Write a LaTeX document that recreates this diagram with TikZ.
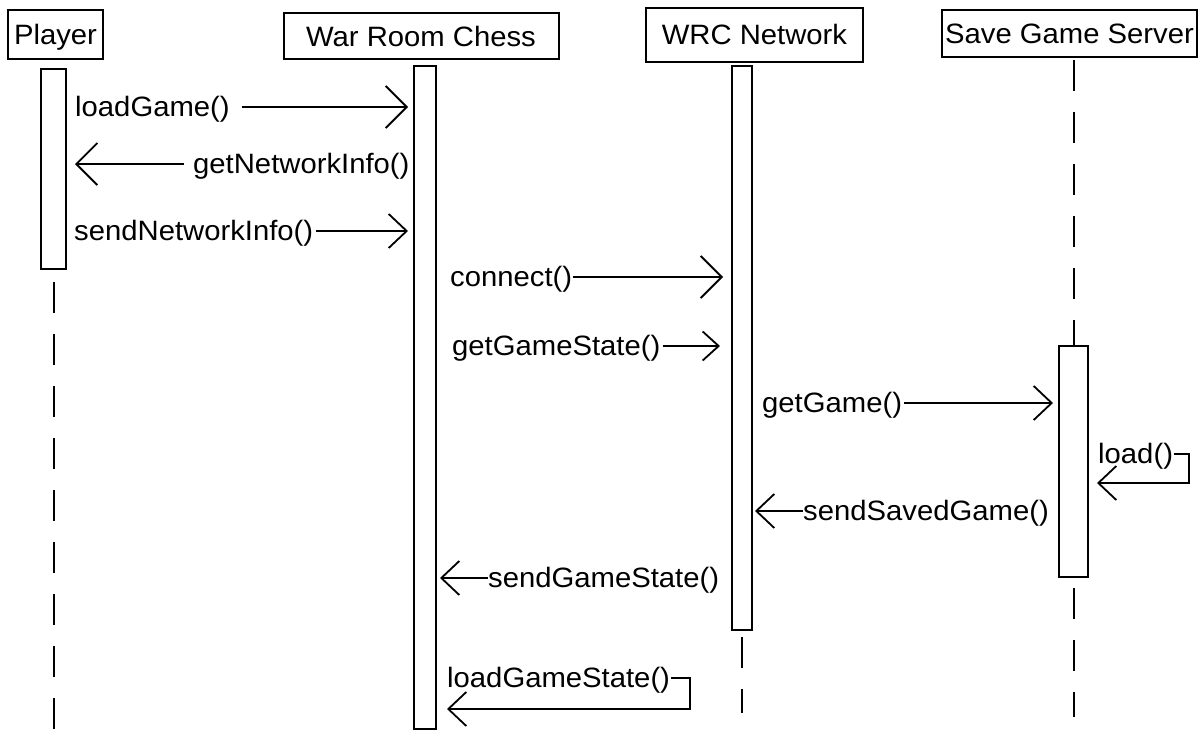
\documentclass[tikz,border=0pt]{standalone}
\usepackage{fontspec}
\setmainfont{Liberation Sans}[FakeStretch=1.045]
\usetikzlibrary{arrows.meta}
\newcommand{\pfont}{\fontsize{28}{32}\selectfont}
\tikzset{
  pbox/.style={draw, line width=2pt, inner sep=0pt, font=\pfont, text height=20pt, text depth=0pt},
  act/.style={draw, line width=2pt, fill=white, inner sep=0pt},
  life/.style={line width=2pt, dash pattern=on 31pt off 21pt},
  msg/.style={line width=1.8pt},
  lbl/.style={inner sep=0pt, anchor=base west, font=\pfont},
  tipL/.style={-{Straight Barb[length=21pt,width=42pt]}},
  tipM/.style={-{Straight Barb[length=18pt,width=34pt]}},
  tipS/.style={-{Straight Barb[length=16pt,width=29pt]}},
}
\begin{document}
\begin{tikzpicture}[x=1pt,y=-1pt]
\useasboundingbox[fill=white] (0,0) rectangle (1203,742);
% participants
\node[pbox, minimum width=95pt, minimum height=49pt] (player) at (55.5,34.5) {Player};
\node[pbox, minimum width=275pt, minimum height=46pt] (wrc) at (421,36) {War Room Chess};
\node[pbox, minimum width=217pt, minimum height=54pt] (net) at (754.5,34.5) {WRC Network};
\node[pbox, minimum width=255pt, minimum height=47pt] (sgs) at (1069.5,33.5) {Save Game Server};
% lifeline coordinates
\coordinate (pL1) at (53.5,282);
\coordinate (pL2) at (53.5,742);
\coordinate (nL1) at (742,637);
\coordinate (nL2) at (742,713);
\coordinate (sL1) at (1073.5,60);
\coordinate (sL2) at (1073.5,346);
\coordinate (sL3) at (1073.5,588);
\coordinate (sL4) at (1073.5,717);
\draw[life] (pL1) -- (pL2);
\draw[life] (nL1) -- (nL2);
\draw[life] (sL1) -- (sL2);
\draw[life] (sL3) -- (sL4);
% activations
\node[act, minimum width=25pt, minimum height=200pt] (pA) at (53.5,169) {};
\node[act, minimum width=22pt, minimum height=663pt] (wA) at (425,397.5) {};
\node[act, minimum width=20pt, minimum height=564pt] (nA) at (742,348) {};
\node[act, minimum width=29pt, minimum height=231pt] (sA) at (1073.5,461.5) {};
% messages
\node[lbl] (m1) at (75,116) {loadGame()};
\coordinate (t1) at (408,107);
\draw[msg,tipL,shorten <=12pt] (m1.east |- t1) -- (t1);

\node[lbl] (m2) at (193,173) {getNetworkInfo()};
\coordinate (t2) at (75,164);
\draw[msg,tipL,shorten <=9pt] (m2.west |- t2) -- (t2);

\node[lbl] (m3) at (74,240) {sendNetworkInfo()};
\coordinate (t3) at (408,231);
\draw[msg,tipM,shorten <=3pt] (m3.east |- t3) -- (t3);

\node[lbl] (m4) at (450,286) {connect()};
\coordinate (t4) at (723,277);
\draw[msg,tipL,shorten <=1pt] (m4.east |- t4) -- (t4);

\node[lbl] (m5) at (452,355) {getGameState()};
\coordinate (t5) at (720,346);
\draw[msg,tipS,shorten <=2pt] (m5.east |- t5) -- (t5);

\node[lbl] (m6) at (762,412) {getGame()};
\coordinate (t6) at (1053,403);
\draw[msg,tipM,shorten <=2pt] (m6.east |- t6) -- (t6);

\node[lbl] (m7) at (1098,463) {load()};
\coordinate (c7a) at (1189,454);
\coordinate (c7b) at (1189,483);
\coordinate (t7) at (1097,483);
\draw[msg,tipM] ([xshift=1pt]m7.east |- c7a) -- (c7a) -- (c7b) -- (t7);

\node[lbl] (m8) at (803,520) {sendSavedGame()};
\coordinate (t8) at (755,511);
\draw[msg,tipM] (m8.west |- t8) -- (t8);

\node[lbl] (m9) at (488,587) {sendGameState()};
\coordinate (t9) at (440,578);
\draw[msg,tipM] (m9.west |- t9) -- (t9);

\node[lbl] (m10) at (447,687) {loadGameState()};
\coordinate (c10a) at (690,678);
\coordinate (c10b) at (690,709);
\coordinate (t10) at (447,709);
\draw[msg,tipM] ([xshift=1pt]m10.east |- c10a) -- (c10a) -- (c10b) -- (t10);
\end{tikzpicture}
\end{document}
